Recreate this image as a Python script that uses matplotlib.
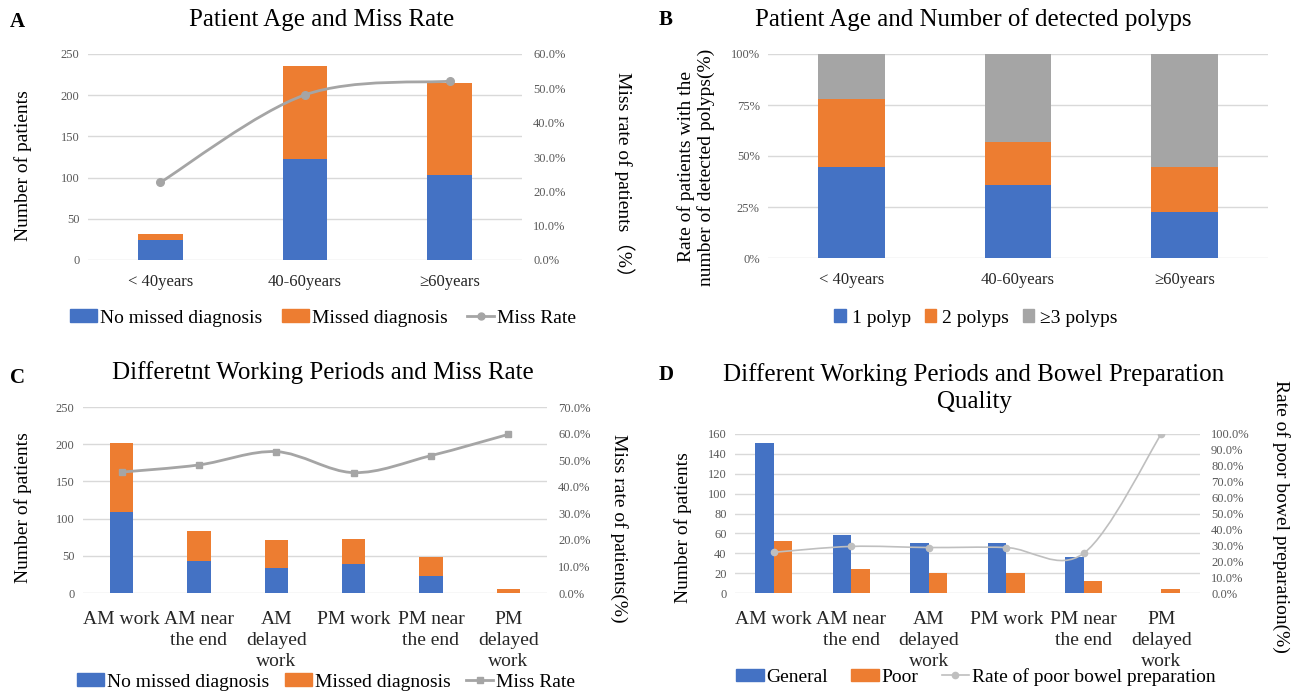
import numpy as np
import matplotlib
matplotlib.use("Agg")
import matplotlib.pyplot as plt
from matplotlib.path import Path
from matplotlib.patches import PathPatch, Patch
from matplotlib.lines import Line2D
from matplotlib.ticker import FuncFormatter

# ==============================================================================
# DATA
# ==============================================================================
age_groups = ["< 40years", "40-60years", "\u226560years"]
age_no_missed = [24, 122, 103]
age_missed = [7, 113, 112]
age_miss_rate = [22.6, 48.1, 52.1]

polyp_one = [44.6, 35.8, 22.7]
polyp_two = [33.2, 21.2, 22.1]
polyp_three = [22.2, 43.0, 55.2]

periods = ["AM work", "AM near\nthe end", "AM\ndelayed\nwork",
           "PM work", "PM near\nthe end", "PM\ndelayed\nwork"]
period_no_missed = [109, 43, 33, 39, 23, 0]
period_missed = [93, 40, 38, 33, 25, 5]
period_miss_rate = [45.5, 48.2, 53.2, 45.3, 51.7, 59.7]

prep_general = [151, 58, 50, 50, 36, 0]
prep_poor = [52, 24, 20, 20, 12, 4]
prep_poor_rate = [25.6, 29.3, 28.6, 28.6, 25.0, 100.0]

# ==============================================================================
# STYLE
# ==============================================================================
BLUE = "#4472C4"
ORANGE = "#ED7D31"
GRAY = "#A5A5A5"
LIGHT = "#BFBFBF"
GRID = "#D9D9D9"
TICK = "#595959"
SERIF = ["Liberation Serif", "DejaVu Serif"]
plt.rcParams["font.family"] = SERIF

W, H = 1293, 693
fig = plt.figure(figsize=(W / 100, H / 100), dpi=100)


def box(left, top, right, bottom):
    return [left / W, 1 - bottom / H, (right - left) / W, (bottom - top) / H]


def pt(x, y):
    return x / W, 1 - y / H


def style_axis(ax, xfs=11, pad=10):
    for s in ax.spines.values():
        s.set_visible(False)
    ax.grid(axis="y", color=GRID, linewidth=1)
    ax.set_axisbelow(True)
    ax.tick_params(axis="both", length=0)
    ax.tick_params(axis="y", labelsize=9, labelcolor=TICK, pad=6)
    ax.tick_params(axis="x", labelsize=xfs, labelcolor="#262626", pad=pad)


def style_right(ax2):
    for s in ax2.spines.values():
        s.set_visible(False)
    ax2.tick_params(axis="y", length=0, labelsize=9, labelcolor=TICK, pad=8)
    ax2.yaxis.set_major_formatter(FuncFormatter(lambda v, p: f"{v:.1f}%"))


def smooth_line(ax, xs, ys, color, lw):
    # Excel-style smoothed line: Catmull-Rom segments as cubic Beziers
    pts = np.column_stack([xs, ys]).astype(float)
    n = len(pts)
    verts = [pts[0]]
    codes = [Path.MOVETO]
    for i in range(n - 1):
        p0 = pts[i - 1] if i > 0 else pts[i]
        p1, p2 = pts[i], pts[i + 1]
        p3 = pts[i + 2] if i + 2 < n else pts[i + 1]
        c1 = p1 + (p2 - p0) / 6.0
        c2 = p2 - (p3 - p1) / 6.0
        verts += [c1, c2, p2]
        codes += [Path.CURVE4] * 3
    ax.add_patch(PathPatch(Path(verts, codes), facecolor="none",
                           edgecolor=color, linewidth=lw, zorder=3))


LEG = dict(loc="center", ncol=3, frameon=False, fontsize=14,
           handlelength=1.4, handleheight=0.6, handletextpad=0.15)

# ==============================================================================
# A: Patient age and miss rate
# ==============================================================================
axA = fig.add_axes(box(88, 54, 522, 260))
x = np.arange(len(age_groups))
axA.bar(x, age_no_missed, 0.31, color=BLUE)
axA.bar(x, age_missed, 0.31, bottom=age_no_missed, color=ORANGE)
axA.set_xlim(-0.5, 2.5)
axA.set_ylim(0, 250)
axA.set_yticks(range(0, 251, 50))
axA.set_xticks(x, age_groups)
style_axis(axA, xfs=12, pad=10)
axA2 = axA.twinx()
smooth_line(axA2, x, age_miss_rate, GRAY, 2)
axA2.plot(x, age_miss_rate, "o", color=GRAY, markersize=5.5, zorder=4)
axA2.set_ylim(0, 60)
axA2.set_yticks(range(0, 61, 10))
style_right(axA2)

fig.text(*pt(10, 22), "A", fontsize=15, fontweight="bold", va="center")
fig.text(*pt(322, 20), "Patient Age and Miss Rate", fontsize=18, ha="center", va="center")
fig.text(*pt(23, 166), "Number of patients", fontsize=14, rotation=90, ha="center", va="center")
fig.text(*pt(624, 179), "Miss rate of patients\uff08%\uff09", fontsize=14, rotation=-90,
         ha="center", va="center", family=SERIF + ["Noto Sans CJK SC"])
fig.legend(handles=[Patch(color=BLUE, label="No missed diagnosis"),
                    Patch(color=ORANGE, label="Missed diagnosis"),
                    Line2D([], [], color=GRAY, lw=2, marker="o", markersize=5, label="Miss Rate")],
           bbox_to_anchor=pt(323, 318), columnspacing=1.0, **LEG)

# ==============================================================================
# B: Patient age and number of detected polyps
# ==============================================================================
axB = fig.add_axes(box(768, 54, 1268, 258))
x = np.arange(len(age_groups))
axB.bar(x, polyp_one, 0.4, color=BLUE)
axB.bar(x, polyp_two, 0.4, bottom=polyp_one, color=ORANGE)
axB.bar(x, polyp_three, 0.4, bottom=np.add(polyp_one, polyp_two), color=GRAY)
axB.set_xlim(-0.5, 2.5)
axB.set_ylim(0, 100)
axB.set_yticks(range(0, 101, 25))
axB.yaxis.set_major_formatter(FuncFormatter(lambda v, p: f"{v:.0f}%"))
axB.set_xticks(x, age_groups)
style_axis(axB, xfs=12, pad=10)

fig.text(*pt(659, 20), "B", fontsize=15, fontweight="bold", va="center")
fig.text(*pt(973, 20), "Patient Age and Number of detected polyps", fontsize=18,
         ha="center", va="center")
fig.text(*pt(696, 167), "Rate of patients with the\nnumber of detected polyps(%)", fontsize=14,
         rotation=90, ha="center", va="center", linespacing=1.1)
fig.legend(handles=[Patch(color=BLUE, label="1 polyp"),
                    Patch(color=ORANGE, label="2 polyps"),
                    Patch(color=GRAY, label="\u22653 polyps")],
           bbox_to_anchor=pt(976, 318), loc="center", ncol=3, frameon=False, fontsize=14,
           handlelength=0.6, handleheight=0.6, handletextpad=0.3, columnspacing=0.7)

# ==============================================================================
# C: Working periods and miss rate
# ==============================================================================
axC = fig.add_axes(box(83, 407, 547, 593))
x = np.arange(len(periods))
axC.bar(x, period_no_missed, 0.3, color=BLUE)
axC.bar(x, period_missed, 0.3, bottom=period_no_missed, color=ORANGE)
axC.set_xlim(-0.5, 5.5)
axC.set_ylim(0, 250)
axC.set_yticks(range(0, 251, 50))
axC.set_xticks(x, periods)
style_axis(axC, xfs=14, pad=13)
for lab in axC.get_xticklabels():
    lab.set_linespacing(1.3)
axC2 = axC.twinx()
smooth_line(axC2, x, period_miss_rate, GRAY, 2)
axC2.plot(x, period_miss_rate, "s", color=GRAY, markersize=5, zorder=4)
axC2.set_ylim(0, 70)
axC2.set_yticks(range(0, 71, 10))
style_right(axC2)

fig.text(*pt(10, 378), "C", fontsize=15, fontweight="bold", va="center")
fig.text(*pt(323, 373), "Differetnt Working Periods and Miss Rate", fontsize=18,
         ha="center", va="center")
fig.text(*pt(23, 508), "Number of patients", fontsize=14, rotation=90, ha="center", va="center")
fig.text(*pt(619, 528), "Miss rate of patients(%)", fontsize=14, rotation=-90,
         ha="center", va="center")
fig.legend(handles=[Patch(color=BLUE, label="No missed diagnosis"),
                    Patch(color=ORANGE, label="Missed diagnosis"),
                    Line2D([], [], color=GRAY, lw=2, marker="s", markersize=5, label="Miss Rate")],
           bbox_to_anchor=pt(326, 682), columnspacing=0.8, **LEG)

# ==============================================================================
# D: Working periods and bowel preparation quality
# ==============================================================================
axD = fig.add_axes(box(735, 434, 1200, 593))
x = np.arange(len(periods))
axD.bar(x - 0.12, prep_general, 0.24, color=BLUE)
axD.bar(x + 0.12, prep_poor, 0.24, color=ORANGE)
axD.set_xlim(-0.5, 5.5)
axD.set_ylim(0, 160)
axD.set_yticks(range(0, 161, 20))
axD.set_xticks(x, periods)
style_axis(axD, xfs=14, pad=13)
for lab in axD.get_xticklabels():
    lab.set_linespacing(1.3)
axD2 = axD.twinx()
smooth_line(axD2, x, prep_poor_rate, LIGHT, 1.2)
axD2.plot(x, prep_poor_rate, "o", color=LIGHT, markersize=4.5, zorder=4)
axD2.set_ylim(0, 100)
axD2.set_yticks(range(0, 101, 10))
style_right(axD2)

fig.text(*pt(659, 375), "D", fontsize=15, fontweight="bold", va="center")
fig.text(*pt(974, 388), "Different Working Periods and Bowel Preparation\nQuality", fontsize=18,
         ha="center", va="center", linespacing=1.35)
fig.text(*pt(683, 528), "Number of patients", fontsize=14, rotation=90, ha="center", va="center")
fig.text(*pt(1281, 516), "Rate of poor bowel preparation(%)", fontsize=14, rotation=-90,
         ha="center", va="center")
fig.legend(handles=[Patch(color=BLUE, label="General"),
                    Patch(color=ORANGE, label="Poor"),
                    Line2D([], [], color=LIGHT, lw=1.2, marker="o", markersize=4.5,
                           label="Rate of poor bowel preparation")],
           bbox_to_anchor=pt(976, 677), columnspacing=1.2, **LEG)

fig.savefig("out.png", dpi=100)
